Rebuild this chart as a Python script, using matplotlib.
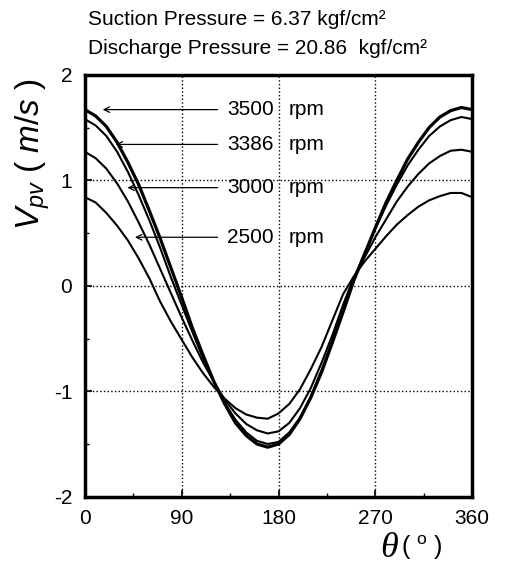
import matplotlib
matplotlib.use('Agg')
import matplotlib.pyplot as plt

plt.rcParams['font.family'] = ['Liberation Sans', 'DejaVu Sans']
plt.rcParams['mathtext.fontset'] = 'custom'
plt.rcParams['mathtext.rm'] = 'Liberation Sans'
plt.rcParams['mathtext.it'] = 'Liberation Sans:italic'
plt.rcParams['axes.unicode_minus'] = False

# crank angle (deg), read every 10 deg
theta = list(range(0, 361, 10))

# pressure-valve velocity Vpv (m/s) per shaft speed
v3500 = [1.67, 1.61, 1.51, 1.36, 1.17, 0.96, 0.71, 0.45, 0.17, -0.11, -0.40, -0.66, -0.91,
         -1.12, -1.30, -1.42, -1.50, -1.53, -1.50, -1.41, -1.26, -1.06, -0.82, -0.54, -0.25,
         0.05, 0.30, 0.55, 0.79, 1.00, 1.20, 1.36, 1.50, 1.60, 1.66, 1.69, 1.67]
v3386 = [1.58, 1.52, 1.42, 1.27, 1.08, 0.86, 0.62, 0.36, 0.08, -0.18, -0.44, -0.69, -0.91,
         -1.11, -1.27, -1.39, -1.47, -1.50, -1.48, -1.39, -1.25, -1.05, -0.80, -0.52, -0.22,
         0.07, 0.31, 0.54, 0.76, 0.96, 1.14, 1.29, 1.42, 1.51, 1.57, 1.60, 1.58]
v3000 = [1.27, 1.21, 1.11, 0.97, 0.80, 0.60, 0.39, 0.16, -0.07, -0.30, -0.52, -0.73, -0.91,
         -1.08, -1.21, -1.31, -1.37, -1.40, -1.38, -1.30, -1.16, -0.97, -0.73, -0.47, -0.18,
         0.08, 0.27, 0.46, 0.63, 0.80, 0.94, 1.06, 1.16, 1.23, 1.28, 1.29, 1.27]
v2500 = [0.84, 0.79, 0.69, 0.57, 0.43, 0.26, 0.07, -0.15, -0.34, -0.51, -0.68, -0.83, -0.96,
         -1.07, -1.16, -1.22, -1.25, -1.26, -1.21, -1.12, -0.98, -0.79, -0.58, -0.33, -0.08,
         0.09, 0.23, 0.35, 0.47, 0.58, 0.67, 0.75, 0.81, 0.85, 0.88, 0.88, 0.84]

labels = ['3500', '3386', '3000', '2500']
label_v = [1.67, 1.34, 0.93, 0.46]   # height of each callout
tip_theta = [14, 26, 37, 44]         # where the arrow touches its curve

fig = plt.figure(figsize=(5.05, 5.71), dpi=100)
ax = fig.add_axes([0.168, 0.130, 0.767, 0.739])

ax.plot(theta, v3500, color='black', lw=2.3)
ax.plot(theta, v3386, color='black', lw=1.5)
ax.plot(theta, v3000, color='black', lw=1.5)
ax.plot(theta, v2500, color='black', lw=1.5)

ax.set_xlim(0, 360)
ax.set_ylim(-2, 2)
ax.set_xticks([0, 90, 180, 270, 360])
ax.set_xticks([45, 135, 225, 315], minor=True)
ax.set_yticks([-2, -1, 0, 1, 2])
ax.set_yticks([-1.5, -0.5, 0.5, 1.5], minor=True)
ax.tick_params(direction='in', labelsize=15, length=5, width=1.2, pad=9)
ax.tick_params(which='minor', direction='in', length=3, width=1)
ax.grid(True, which='major', linestyle=':', color='black', lw=1)
for s in ax.spines.values():
    s.set_linewidth(2.5)

fig.text(0.175, 0.965, 'Suction Pressure = 6.37 kgf/cm²', fontsize=15, va='center')
fig.text(0.175, 0.915, 'Discharge Pressure = 20.86  kgf/cm²', fontsize=15, va='center')

fig.text(0.065, 0.73, r'$V_{pv}$ ( $m/s$ )', fontsize=24, rotation=90, ha='center', va='center')
fig.text(0.77, 0.04, 'θ', fontsize=26, family='Liberation Serif', style='italic',
         ha='center', va='center')
fig.text(0.835, 0.04, r'( $^{\mathrm{o}}$ )', fontsize=18, ha='center', va='center')

for lab, lv, tt in zip(labels, label_v, tip_theta):
    ax.annotate('', xy=(tt, lv), xytext=(126, lv),
                arrowprops=dict(arrowstyle='->', color='black', lw=0.9))
    ax.text(132, lv, lab, fontsize=15, va='center')
    ax.text(189, lv, 'rpm', fontsize=15, va='center')

fig.savefig('out.png', dpi=100)
